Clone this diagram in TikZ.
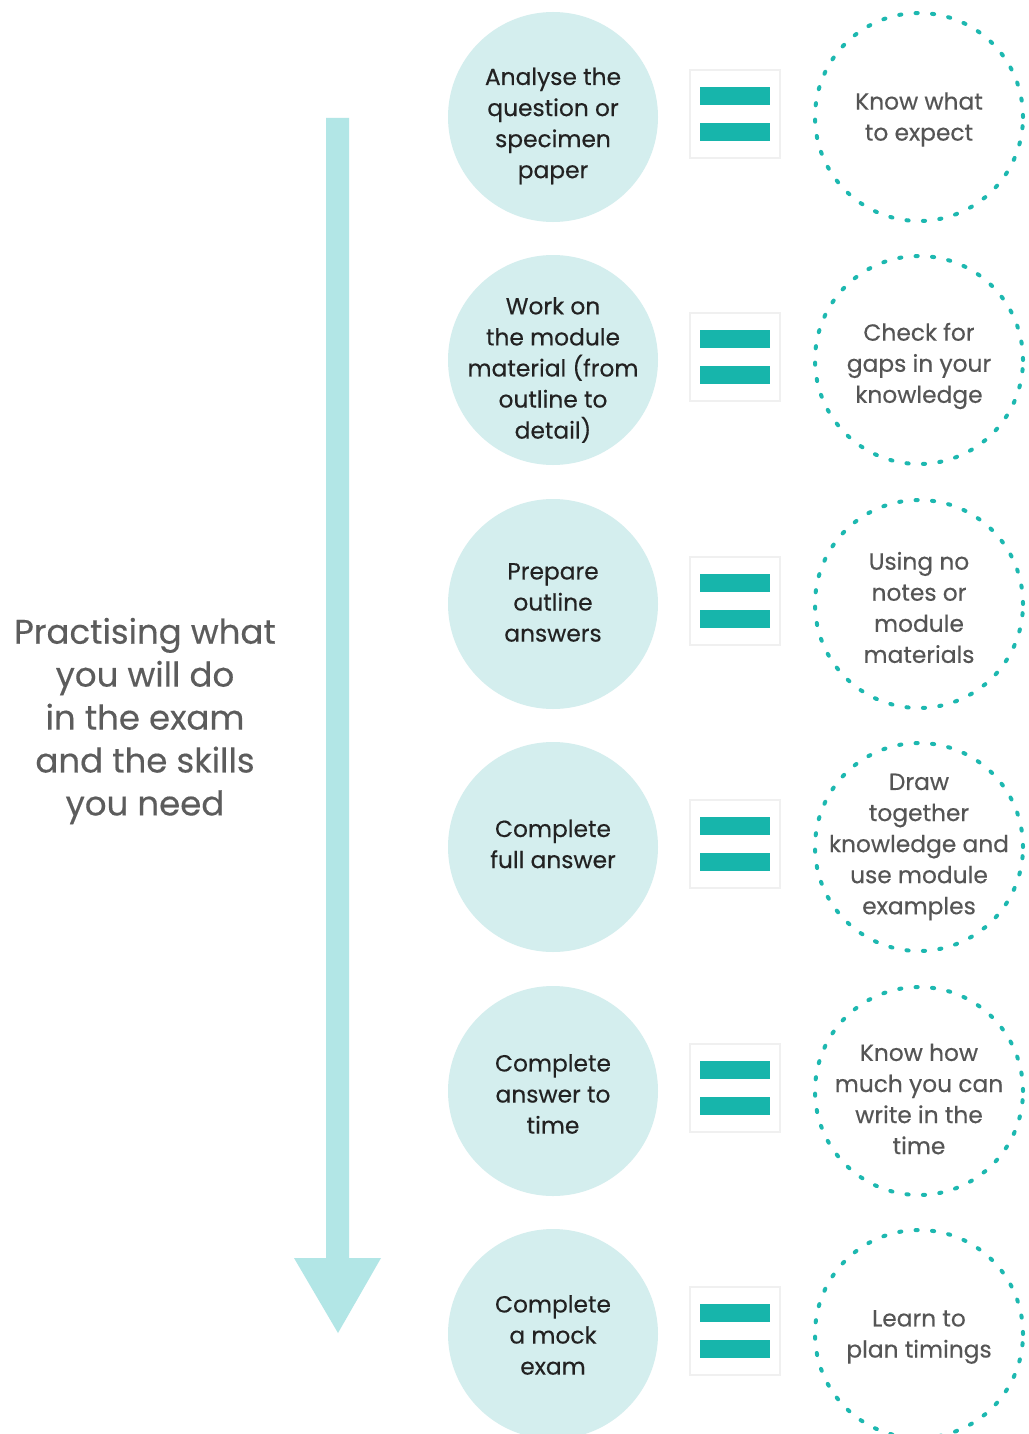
\documentclass[tikz,border=0pt]{standalone}
\usepackage{fontspec}
\setmainfont{Poppins}[FakeBold=0.35]
\begin{document}
\begin{tikzpicture}[x=0.75pt,y=-0.75pt,
  task/.style={circle,minimum size=210*0.75pt,inner sep=0pt,fill=circfill},
  goal/.style={circle,minimum size=208*0.75pt,inner sep=0pt,draw=dotcol,line width=3pt,line cap=round,
    dash pattern=on 1.6pt off 10.75pt},
  tasktext/.style={text=taskText,align=center,inner sep=0pt,font=\fontsize{17.5}{23.3}\selectfont},
  goaltext/.style={text=goalText,align=center,inner sep=0pt,font=\fontsize{17.5}{23.3}\selectfont},
  eqbox/.style={rectangle,minimum width=90*0.75pt,minimum height=88*0.75pt,fill=white,draw=black!6,line width=0.8pt},
  eqbar/.style={fill=barcol}]
\definecolor{circfill}{HTML}{D4EEEE}
\definecolor{dotcol}{HTML}{1DB8B0}
\definecolor{barcol}{HTML}{17B5AB}
\definecolor{arrowcol}{HTML}{B2E6E6}
\definecolor{taskText}{HTML}{222222}
\definecolor{goalText}{HTML}{555555}
\definecolor{sideText}{HTML}{5C5C5C}
\useasboundingbox (0,0) rectangle (1028,1434);
\fill[white] (0,0) rectangle (1028,1434);
% big arrow
\fill[arrowcol] (326,118) -- (349,118) -- (349,1258) -- (381,1258) -- (338,1333) -- (294,1258) -- (326,1258) -- cycle;
\node[text=sideText,align=center,font=\fontsize{25.5}{32.2}\selectfont] (side) at (145,721)
  {Practising what\\you will do\\in the exam\\and the skills\\you need};
% rows
\foreach \i/\y/\da/\db/\ta/\tb in {
  1/117/9/2.5/{Analyse the\\question or\\specimen\\paper}/{Know what\\to expect},
  2/360/10/6/{Work on\\the module\\material (from\\outline to\\detail)}/{Check for\\gaps in your\\knowledge},
  3/604/-1.5/3.5/{Prepare\\outline\\answers}/{Using no\\notes or\\module\\materials},
  4/847/-3/0/{Complete\\full answer}/{Draw\\together\\knowledge and\\use module\\examples},
  5/1091/3/8/{Complete\\answer to\\time}/{Know how\\much you can\\write in the\\time},
  6/1334/1/3/{Complete\\a mock\\exam}/{Learn to\\plan timings}}{
  \node[task] (t\i) at (553,\y) {};
  \node[tasktext] (tl\i) at (553,\y+\da) {\ta};
  \node[goal] (g\i) at (919,\y) {};
  \node[goaltext] (gl\i) at (919,\y+\db) {\tb};
  \node[eqbox] (e\i) at (735,\y-3) {};
  \fill[eqbar] ([xshift=-35*0.75pt,yshift=27*0.75pt]e\i.center) rectangle ([xshift=35*0.75pt,yshift=9*0.75pt]e\i.center);
  \fill[eqbar] ([xshift=-35*0.75pt,yshift=-9*0.75pt]e\i.center) rectangle ([xshift=35*0.75pt,yshift=-27*0.75pt]e\i.center);
}
\end{tikzpicture}
\end{document}
